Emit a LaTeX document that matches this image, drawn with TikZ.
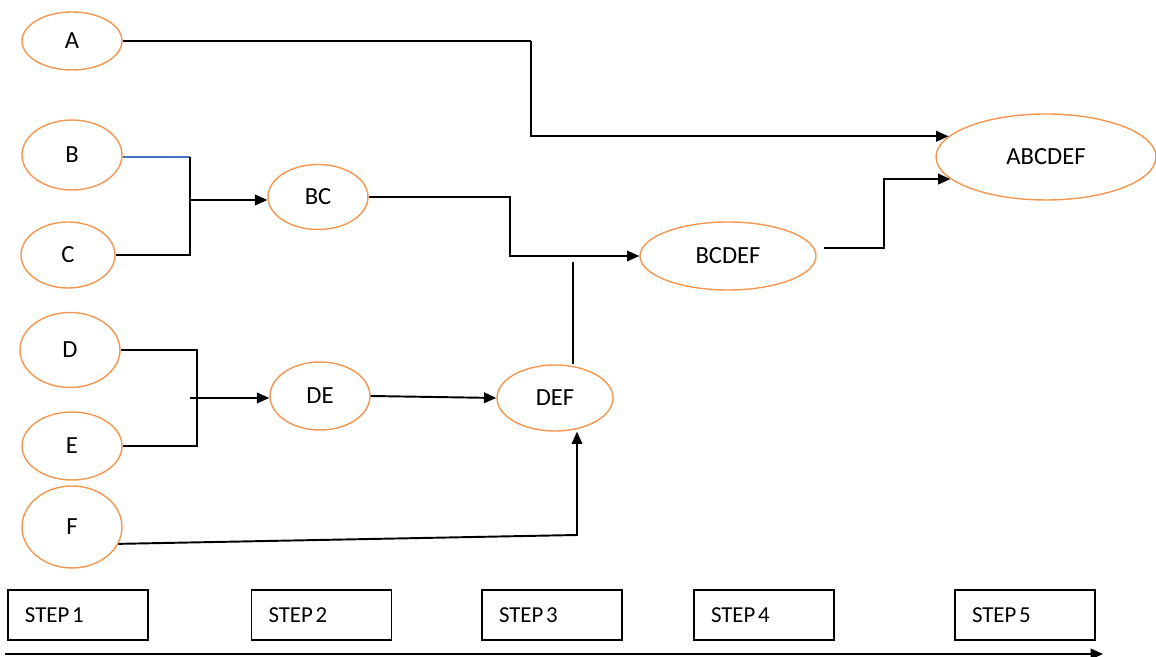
\documentclass[tikz,border=0pt]{standalone}
\usepackage{fontspec}
\setmainfont{Carlito}
\usetikzlibrary{shapes.geometric, arrows.meta}
\definecolor{ovalorange}{RGB}{245,150,80}
\definecolor{linkblue}{RGB}{68,114,196}

\begin{document}
\begin{tikzpicture}[
    stage/.style={ellipse, draw=ovalorange, line width=.8pt, inner sep=0pt,
                  font=\fontsize{14}{16}\selectfont},
    stepbox/.style={draw, line width=1pt, minimum width=2.8cm, minimum height=1cm,
                    text width=2.12cm, align=left, inner xsep=.34cm,
                    font=\fontsize{13}{15}\selectfont},
    link/.style={line width=1.1pt},
    arr/.style={link, -{Triangle[length=7pt,width=6pt]}}]
    \useasboundingbox (0,0) rectangle (23.12,13.14);

    % step 1
    \node[stage, minimum width=2cm, minimum height=1.16cm] (A) at (1.44,12.32) {A};
    \node[stage, minimum width=2cm, minimum height=1.4cm] (B) at (1.44,10.04) {B};
    \node[stage, minimum width=1.88cm, minimum height=1.32cm] (C) at (1.36,8.04) {C};
    \node[stage, minimum width=2cm, minimum height=1.5cm] (D) at (1.40,6.14) {D};
    \node[stage, minimum width=2cm, minimum height=1.36cm] (E) at (1.44,4.22) {E};
    \node[stage, minimum width=2cm, minimum height=1.64cm] (F) at (1.44,2.60) {F};
    % steps 2-5
    \node[stage, minimum width=2cm, minimum height=1.3cm] (BC) at (6.36,9.20) {BC};
    \node[stage, minimum width=2cm, minimum height=1.36cm] (DE) at (6.40,5.22) {DE};
    \node[stage, minimum width=2.32cm, minimum height=1.32cm] (DEF) at (11.10,5.18) {DEF};
    \node[stage, minimum width=3.52cm, minimum height=1.36cm] (BCDEF) at (14.56,8.02) {BCDEF};
    \node[stage, minimum width=4.4cm, minimum height=1.72cm] (ABCDEF) at (20.92,10.00) {ABCDEF};

    \coordinate (jB) at (3.80,10.00);
    \coordinate (jBC) at (3.80,9.14);
    \coordinate (jD) at (3.94,6.14);
    \coordinate (jDE) at (3.80,5.18);
    \coordinate (jDEF) at (11.46,7.90);
    \coordinate (jF) at (11.54,2.44);

    \draw[link] (A.east) -- (10.62,12.32);
    \draw[arr] (10.62,12.32) |- (ABCDEF.168);
    \draw[link, draw=linkblue] (B.east |- jB) -- (jB);
    \draw[link] (jB) |- (C.east);
    \draw[arr] (jBC) -- (jBC -| BC.west);
    \draw[link] (D.east) -- (jD) |- (E.east);
    \draw[arr] (jDE) -- (jDE -| DE.west);
    \draw[arr] (BC.east) -- (10.20,9.20) |- (BCDEF.west);
    \draw[arr] (DE.east) -- (DEF.west);
    \draw[link] (jDEF |- DEF.north) -- (jDEF);
    \draw[arr] (F.-20) -- (jF) -- (jF |- DEF.south);
    \draw[arr] ([xshift=.14cm,yshift=.16cm]BCDEF.east) -- ++(1.2,0) |- (ABCDEF.193);

    % timeline
    \node[stepbox] (S1) at (1.56,0.84) {STEP\hspace{.12em}1};
    \node[stepbox] (S2) at (6.43,0.84) {STEP\hspace{.12em}2};
    \node[stepbox] (S3) at (11.04,0.84) {STEP\hspace{.12em}3};
    \node[stepbox] (S4) at (15.28,0.84) {STEP\hspace{.12em}4};
    \node[stepbox] (S5) at (20.50,0.84) {STEP\hspace{.12em}5};
    \coordinate (t0) at (0.10,0.06);
    \coordinate (t1) at (22.06,0.06);
    \draw[arr] (t0) -- (t1);
\end{tikzpicture}
\end{document}
